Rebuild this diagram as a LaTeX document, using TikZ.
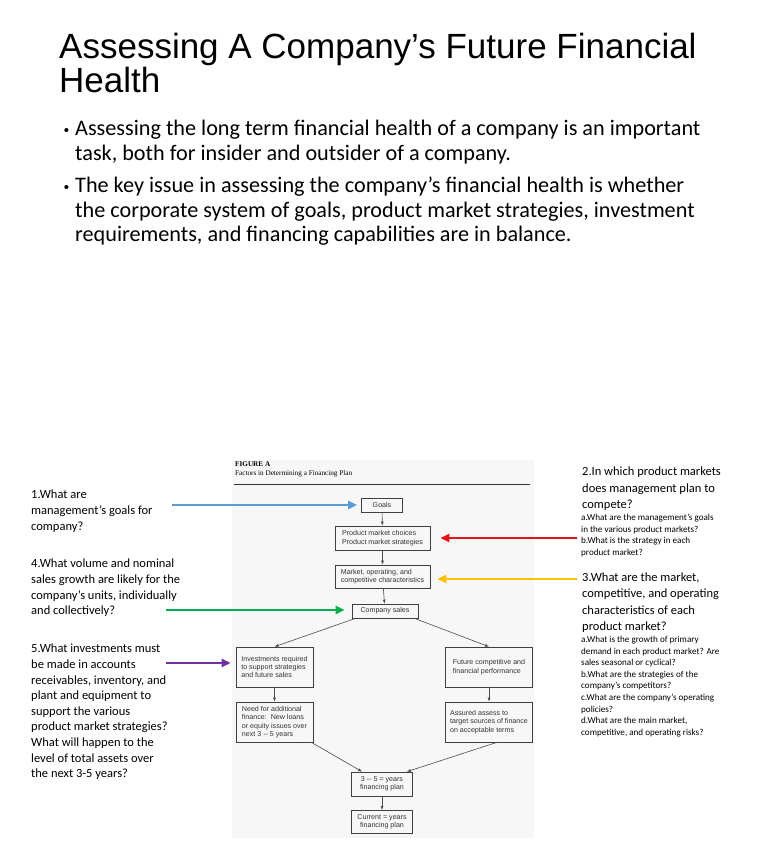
\documentclass[tikz,border=0pt]{standalone}
\usepackage{fontspec}
\setmainfont{Carlito}
\newfontfamily\titlefont{Liberation Sans}
\newfontfamily\scanfont{Liberation Sans}
\newfontfamily\capfont{Liberation Serif}
\usepackage{tikz}
\usetikzlibrary{arrows.meta, positioning}
\definecolor{qblue}{RGB}{91,155,213}
\definecolor{qred}{RGB}{230,20,20}
\definecolor{qyellow}{RGB}{255,192,0}
\definecolor{qgreen}{RGB}{0,176,80}
\definecolor{qpurple}{RGB}{112,48,160}

\tikzset{
    fbox/.style={draw=black!75, line width=0.6pt, align=left, inner sep=0pt,
        text=black!80, font=\scanfont\fontsize{7.1}{8.4}\selectfont},
    flow/.style={draw=black!70, line width=0.6pt, -{Latex[length=4pt,width=3pt]}},
    pointer/.style={line width=2.6pt, -{Triangle[length=9pt,width=8pt]}},
    qtext/.style={anchor=north west, align=left, inner sep=0pt,
        font=\fontsize{12.5}{15.6}\selectfont},
    subtext/.style={anchor=north west, align=left, inner sep=0pt,
        font=\fontsize{9.1}{11.6}\selectfont},
    bullettext/.style={anchor=north west, align=left, inner sep=0pt,
        font=\fontsize{22.2}{24.5}\selectfont}
}

\begin{document}
\begin{tikzpicture}[x=1pt, y=-1pt]
    \useasboundingbox (0,0) rectangle (768,866);

    % Title
    \node[anchor=north west, align=left, inner sep=0pt, font=\titlefont\fontsize{35}{32}\selectfont]
        (title) at (59,33) {Assessing A Company’s Future Financial\\Health};

    % Bullets
    \node[bullettext] (b1) at (75,120) {\llap{\titlefont\fontsize{15}{15}\selectfont•\hspace{6pt}}Assessing the long term financial health of a company is an important\\task, both for insider and outsider of a company.};
    \node[bullettext] (b2) at (75,177) {\llap{\titlefont\fontsize{15}{15}\selectfont•\hspace{6pt}}The key issue in assessing the company’s financial health is whether\\the corporate system of goals, product market strategies, investment\\requirements, and financing capabilities are in balance.};

    % Scanned figure
    \fill[black!3] (232,460) rectangle (534,838);
    \node[anchor=north west, inner sep=0pt, align=left, font=\capfont\fontsize{7.2}{9}\selectfont]
        (figcap) at (235,462) {\textbf{FIGURE A}\\Factors in Determining a Financing Plan};
    \draw[black!80, line width=1pt] (234,484) -- (530,484);

    \node[fbox, minimum width=41pt, minimum height=14pt] (goals) at (382,505) {Goals};
    \node[fbox, minimum width=95pt, minimum height=24pt] (pm) at (382.5,538) {Product market choices\\Product market strategies};
    \node[fbox, minimum width=95pt, minimum height=23pt] (mo) at (382.5,576.5) {Market, operating, and\\competitive characteristics};
    \node[fbox, minimum width=66pt, minimum height=14pt] (cs) at (385,611) {Company sales};
    \node[fbox, minimum width=77pt, minimum height=40pt] (inv) at (274.5,667) {Investments required\\to support strategies\\and future sales};
    \node[fbox, minimum width=87pt, minimum height=40pt] (fut) at (489,667) {Future competitive and\\financial performance};
    \node[fbox, minimum width=77pt, minimum height=40pt] (need) at (274.5,722) {Need for additional\\finance:\ \ New loans\\or equity issues over\\next 3 -- 5 years};
    \node[fbox, minimum width=87pt, minimum height=40pt] (ass) at (489,722) {Assured assess to\\target sources of finance\\on acceptable terms};
    \node[fbox, minimum width=61pt, minimum height=24pt, align=center] (plan) at (382,784) {3 -- 5 = years\\financing plan};
    \node[fbox, minimum width=61pt, minimum height=23pt, align=center] (cur) at (382,822) {Current = years\\financing plan};

    \draw[flow] (goals) -- (pm);
    \draw[flow] (pm) -- (mo);
    \draw[flow] (mo) -- (cs);
    \draw[flow] ([xshift=4pt]cs.south west) -- (inv.north);
    \draw[flow] ([xshift=-4pt]cs.south east) -- (fut.north);
    \draw[flow] (inv) -- (need);
    \draw[flow] (fut) -- (ass);
    \draw[flow] ([xshift=-2pt]need.south east) -- ([xshift=11pt]plan.north west);
    \draw[flow] ([xshift=8pt]ass.south) -- ([xshift=-6pt]plan.north east);
    \draw[flow] (plan) -- (cur);

    % Questions on the left
    \node[qtext] (q1) at (31,490) {1.What are\\management’s goals for\\company?};
    \node[qtext] (q4) at (31,559) {4.What volume and nominal\\sales growth are likely for the\\company’s units, individually\\and collectively?};
    \node[qtext] (q5) at (31,644) {5.What investments must\\be made in accounts\\receivables, inventory, and\\plant and equipment to\\support the various\\product market strategies?\\What will happen to the\\level of total assets over\\the next 3-5 years?};

    % Questions on the right
    \node[qtext, font=\fontsize{12.5}{16.3}\selectfont] (q2) at (582,467) {2.In which product markets\\does management plan to\\compete?};
    \node[subtext] (q2sub) at (581,514) {a.What are the management’s goals\\in the various product markets?\\b.What is the strategy in each\\product market?};
    \node[qtext, font=\fontsize{12.5}{16.1}\selectfont] (q3) at (582,573) {3.What are the market,\\competitive, and operating\\characteristics of each\\product market?};
    \node[subtext] (q3sub) at (581,636) {a.What is the growth of primary\\demand in each product market? Are\\sales seasonal or cyclical?\\b.What are the strategies of the\\company’s competitors?\\c.What are the company’s operating\\policies?\\d.What are the main market,\\competitive, and operating risks?};

    % Coloured pointers
    \coordinate (bluetail) at (172,505);
    \coordinate (redtail) at (577,538);
    \coordinate (yellowtail) at (577,579);
    \coordinate (greentail) at (166,610);
    \coordinate (purpletail) at (166,663);
    \draw[pointer, qblue, shorten >=4pt] (bluetail) -- (goals.west);
    \draw[pointer, qred, shorten >=10pt] (redtail) -- (redtail -| pm.east);
    \draw[pointer, qyellow, shorten >=7pt] (yellowtail) -- (yellowtail -| mo.east);
    \draw[pointer, qgreen, shorten >=7pt] (greentail) -- (greentail -| cs.west);
    \draw[pointer, qpurple, shorten >=5pt] (purpletail) -- (purpletail -| inv.west);
\end{tikzpicture}
\end{document}
